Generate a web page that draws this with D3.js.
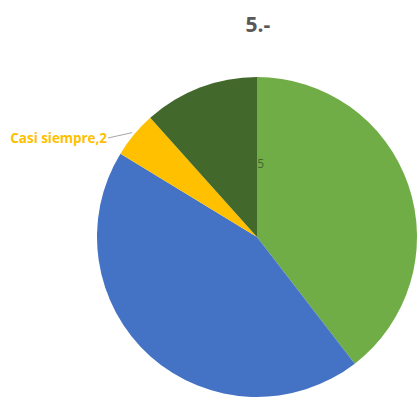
<!DOCTYPE html>
<html><head><meta charset="utf-8">
<script src="https://cdn.jsdelivr.net/npm/d3@7"></script>
<style>body{margin:0;background:#fff}svg{display:block}</style>
</head><body>
<svg id="c" width="418" height="400"></svg>
<script>
const categories = ["Siempre", "A veces", "Casi siempre", "Nunca"];
const values = [17, 19, 2, 5];
const colors = ["#70AD47", "#4472C4", "#FFC000", "#43682B"];
const title = "5.-";

const svg = d3.select("#c");
const cx = 257, cy = 237, r = 160;
const pie = d3.pie().sort(null).value(d => d.v);
const data = categories.map((c, i) => ({c, v: values[i], col: colors[i]}));
const arcs = pie(data);
const arc = d3.arc().innerRadius(0).outerRadius(r);
const g = svg.append("g").attr("transform", `translate(${cx},${cy})`);
g.selectAll("path").data(arcs).enter().append("path")
  .attr("d", arc).attr("fill", d => d.data.col);

svg.append("text").attr("x", 258).attr("y", 32).attr("text-anchor", "middle")
  .attr("font-family", "Open Sans, sans-serif").attr("font-weight", "bold")
  .attr("font-size", 21).attr("fill", "#595959").text(title);

// data labels (inside labels are drawn in the slice's own colour, as in the source)
const labelArc = d3.arc().innerRadius(r * 0.55).outerRadius(r * 0.55);
arcs.forEach((a, i) => {
  if (a.data.c === "Casi siempre") {
    const p = d3.arc().innerRadius(r).outerRadius(r).centroid(a);
    svg.append("line")
      .attr("x1", cx + p[0] - 2).attr("y1", cy + p[1] - 2)
      .attr("x2", 108).attr("y2", 138)
      .attr("stroke", "#A6A6A6").attr("stroke-width", 1);
    svg.append("text").attr("x", 107).attr("y", 143).attr("text-anchor", "end")
      .attr("font-family", "Open Sans, sans-serif").attr("font-weight", "bold")
      .attr("font-size", 13.5).attr("fill", a.data.col)
      .attr("letter-spacing", -0.05)
      .text(a.data.c + "," + a.data.v);
  } else if (a.data.c === "Nunca") {
    svg.append("text").attr("x", 264).attr("y", 168).attr("text-anchor", "end")
      .attr("font-family", "Open Sans, sans-serif")
      .attr("font-size", 12).attr("fill", a.data.col)
      .text(a.data.c + "," + a.data.v);
  } else {
    const p = labelArc.centroid(a);
    svg.append("text").attr("x", cx + p[0]).attr("y", cy + p[1])
      .attr("text-anchor", "middle")
      .attr("font-family", "Open Sans, sans-serif")
      .attr("font-size", 12).attr("fill", a.data.col)
      .text(a.data.c + "," + a.data.v);
  }
});
</script>
</body></html>
